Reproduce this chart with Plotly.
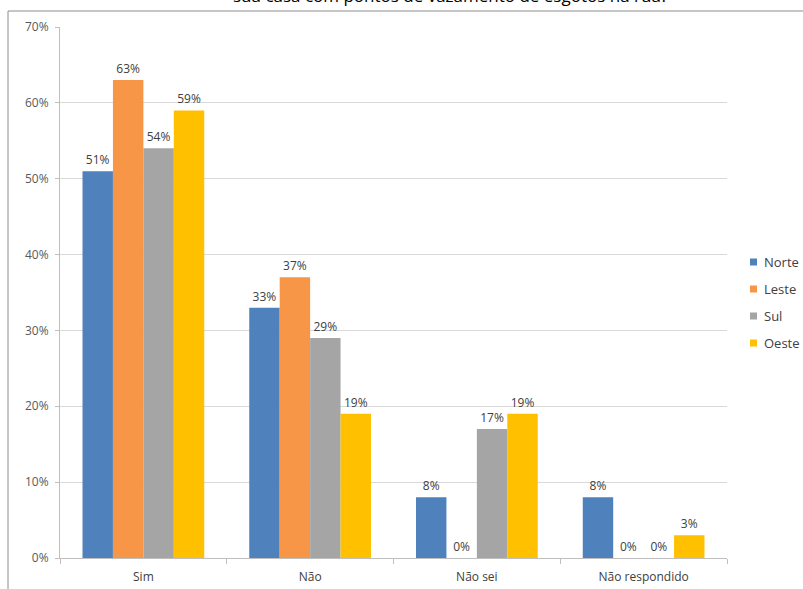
import plotly.graph_objects as go

categories = ["Sim", "Não", "Não sei", "Não respondido"]
series_names = ["Norte", "Leste", "Sul", "Oeste"]
norte = [51, 33, 8, 8]
leste = [63, 37, 0, 0]
sul = [54, 29, 17, 0]
oeste = [59, 19, 19, 3]
colors = ["#4F81BD", "#F79646", "#A5A5A5", "#FFC000"]
y_ticks = [0, 10, 20, 30, 40, 50, 60, 70]
title_text = "sua casa com pontos de vazamento de esgotos na rua?"

W, H = 803, 589
ml, mr, mt, mb = 60, 76, 27, 31
pw, ph = W - ml - mr, H - mt - mb

def px_x(x):
    return (x - ml) / pw

def px_y(y):
    return (H - mb - y) / ph

fig = go.Figure()
for name, vals, col in zip(series_names, [norte, leste, sul, oeste], colors):
    fig.add_trace(go.Bar(
        x=categories, y=vals, name=name, marker_color=col, marker_line_width=0,
        text=[f"{v}%" for v in vals], textposition="outside", cliponaxis=False,
        textfont=dict(size=12, color="#404040", family="Open Sans"),
        showlegend=False,
    ))

# manual legend (small squares + labels)
leg_x, leg_y0, leg_dy, sq = 750, 262, 27, 7
for i, (name, col) in enumerate(zip(series_names, colors)):
    yc = leg_y0 + i * leg_dy
    fig.add_shape(type="rect", xref="paper", yref="paper",
                  x0=px_x(leg_x), x1=px_x(leg_x + sq),
                  y0=px_y(yc + sq / 2), y1=px_y(yc - sq / 2),
                  line=dict(width=0), fillcolor=col)
    fig.add_annotation(text=name, xref="paper", yref="paper",
                       x=px_x(leg_x + sq + 5), y=px_y(yc), xanchor="left", yanchor="middle",
                       showarrow=False, font=dict(size=13, color="#404040", family="Open Sans"))

fig.update_layout(
    width=W, height=H,
    margin=dict(l=ml, r=mr, t=mt, b=mb, autoexpand=False),
    plot_bgcolor="white", paper_bgcolor="white",
    barmode="group", bargap=0.27, bargroupgap=0,
    font=dict(family="Open Sans", size=12, color="#595959"),
    showlegend=False,
)
fig.update_xaxes(
    type="category", categoryorder="array", categoryarray=categories,
    showline=True, linecolor="#BFBFBF", linewidth=1,
    ticks="outside", tickson="boundaries", ticklen=5, tickcolor="#BFBFBF",
    ticklabelstandoff=8,
    tickfont=dict(size=12, color="#404040"), showgrid=False,
)
fig.update_yaxes(
    range=[0, 70], tickvals=y_ticks, ticktext=[f"{t}%" for t in y_ticks],
    showline=True, linecolor="#BFBFBF", linewidth=1,
    ticks="outside", ticklen=4, tickcolor="#BFBFBF",
    ticklabelstandoff=4,
    gridcolor="#D9D9D9", gridwidth=1, zeroline=False,
    tickfont=dict(size=12, color="#595959"),
)
fig.add_shape(type="rect", xref="paper", yref="paper",
              x0=px_x(8), x1=px_x(830), y0=px_y(620), y1=px_y(11),
              line=dict(color="#8C8C8C", width=1), fillcolor="rgba(0,0,0,0)", layer="below")
fig.add_annotation(text=title_text, xref="paper", yref="paper",
                   x=px_x(450), y=px_y(9), xanchor="center", yanchor="bottom",
                   showarrow=False, font=dict(size=17, color="#000000", family="Open Sans"))
fig.write_html("out.html", config={"displayModeBar": False},
               post_script="document.body.style.margin='0';document.body.style.overflow='hidden';")
